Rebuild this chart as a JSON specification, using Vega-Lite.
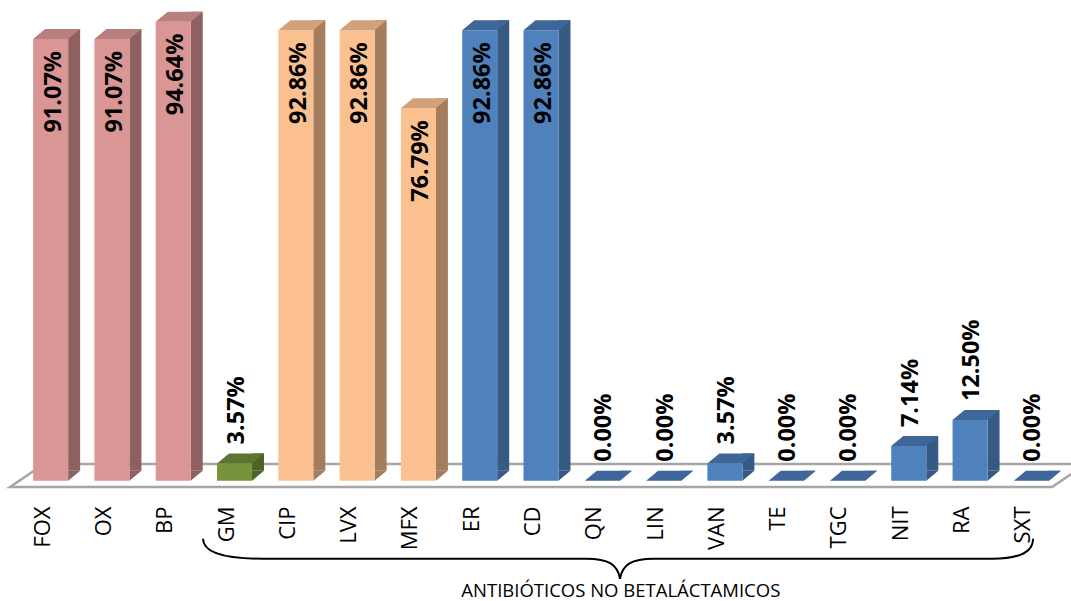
{
  "$schema": "https://vega.github.io/schema/vega-lite/v6.json",
  "autosize": "none",
  "width": 1042,
  "height": 488,
  "padding": {"left": 20, "top": 0, "right": 9, "bottom": 113},
  "background": "white",
  "config": {"view": {"stroke": null}},
  "data": {
    "values": [
      {"ab": "FOX", "pct": 91.07, "grupo": "A"},
      {"ab": "OX", "pct": 91.07, "grupo": "A"},
      {"ab": "BP", "pct": 94.64, "grupo": "A"},
      {"ab": "GM", "pct": 3.57, "grupo": "B"},
      {"ab": "CIP", "pct": 92.86, "grupo": "C"},
      {"ab": "LVX", "pct": 92.86, "grupo": "C"},
      {"ab": "MFX", "pct": 76.79, "grupo": "C"},
      {"ab": "ER", "pct": 92.86, "grupo": "D"},
      {"ab": "CD", "pct": 92.86, "grupo": "D"},
      {"ab": "QN", "pct": 0.0, "grupo": "D"},
      {"ab": "LIN", "pct": 0.0, "grupo": "D"},
      {"ab": "VAN", "pct": 3.57, "grupo": "D"},
      {"ab": "TE", "pct": 0.0, "grupo": "D"},
      {"ab": "TGC", "pct": 0.0, "grupo": "D"},
      {"ab": "NIT", "pct": 7.14, "grupo": "D"},
      {"ab": "RA", "pct": 12.5, "grupo": "D"},
      {"ab": "SXT", "pct": 0.0, "grupo": "D"}
    ]
  },
  "encoding": {
    "x": {
      "field": "ab",
      "type": "nominal",
      "sort": null,
      "scale": {"paddingInner": 0, "paddingOuter": 0},
      "axis": {
        "title": null,
        "domain": false,
        "ticks": false,
        "labelAngle": 270,
        "labelAlign": "right",
        "labelBaseline": "middle",
        "labelPadding": 18,
        "labelOffset": -8,
        "labelFont": "Open Sans",
        "labelFontSize": 22,
        "labelColor": "#000000"
      }
    }
  },
  "layer": [
    {
      "transform": [{"filter": "datum.ab == 'FOX'"}],
      "mark": {
        "type": "point",
        "shape": "M-40.6,6.3 L1001.4,6.3 L1035.4,-16.7 L-6.6,-16.7 Z",
        "size": 4,
        "filled": true,
        "fill": "#FFFFFF",
        "stroke": "#A6A6A6",
        "strokeWidth": 2.5,
        "opacity": 1
      },
      "encoding": {
        "y": {"datum": 0, "type": "quantitative", "scale": {"domain": [-1.5, 99.1]}, "axis": null}
      }
    },
    {
      "mark": {"type": "bar", "width": 12, "xOffset": 23.5, "yOffset": -10, "y2Offset": -10},
      "encoding": {
        "y": {"field": "pct", "type": "quantitative", "scale": {"domain": [-1.5, 99.1]}, "axis": null},
        "y2": {"datum": 0},
        "color": {"field": "grupo", "type": "nominal", "scale": {"domain": ["A", "B", "C", "D"], "range": ["#8E6160", "#4F6228", "#A47D5E", "#375A85"]}, "legend": null}
      }
    },
    {
      "mark": {"type": "point", "shape": "M17.5,-10 L29.5,-10 L17.5,0 Z", "size": 4, "filled": true, "opacity": 1, "strokeWidth": 0},
      "encoding": {
        "y": {"datum": 0, "type": "quantitative", "scale": {"domain": [-1.5, 99.1]}, "axis": null},
        "color": {"field": "grupo", "type": "nominal", "scale": {"domain": ["A", "B", "C", "D"], "range": ["#8E6160", "#4F6228", "#A47D5E", "#375A85"]}, "legend": null}
      }
    },
    {
      "mark": {"type": "bar", "width": 35},
      "encoding": {
        "y": {"field": "pct", "type": "quantitative", "scale": {"domain": [-1.5, 99.1]}, "axis": null},
        "y2": {"datum": 0},
        "color": {"field": "grupo", "type": "nominal", "scale": {"domain": ["A", "B", "C", "D"], "range": ["#D99694", "#77933C", "#FAC090", "#4F81BD"]}, "legend": null}
      }
    },
    {
      "mark": {"type": "point", "shape": "M-17.5,0 L17.5,0 L29.5,-10 L-5.5,-10 Z", "size": 4, "filled": true, "opacity": 1, "strokeWidth": 0},
      "encoding": {
        "y": {"field": "pct", "type": "quantitative", "scale": {"domain": [-1.5, 99.1]}, "axis": null},
        "color": {"field": "grupo", "type": "nominal", "scale": {"domain": ["A", "B", "C", "D"], "range": ["#B87F7E", "#5E7530", "#D2A079", "#3F6698"]}, "legend": null}
      }
    },
    {
      "transform": [{"filter": "datum.pct >= 50"}, {"calculate": "format(datum.pct, '.2f') + '%'", "as": "lbl"}],
      "mark": {"type": "text", "angle": 270, "align": "right", "baseline": "middle", "font": "Open Sans", "fontWeight": "bold", "fontSize": 23.5, "color": "#000000", "xOffset": 3, "yOffset": 12},
      "encoding": {
        "y": {"field": "pct", "type": "quantitative", "scale": {"domain": [-1.5, 99.1]}, "axis": null},
        "text": {"field": "lbl"}
      }
    },
    {
      "transform": [{"filter": "datum.pct < 50"}, {"calculate": "format(datum.pct, '.2f') + '%'", "as": "lbl"}],
      "mark": {"type": "text", "angle": 270, "align": "left", "baseline": "middle", "font": "Open Sans", "fontWeight": "bold", "fontSize": 23.5, "color": "#000000", "xOffset": 2, "yOffset": -19},
      "encoding": {
        "y": {"field": "pct", "type": "quantitative", "scale": {"domain": [-1.5, 99.1]}, "axis": null},
        "text": {"field": "lbl"}
      }
    },
    {
      "transform": [{"filter": "datum.ab == 'GM'"}],
      "mark": {
        "type": "point",
        "shape": "M-31.5,58 C-31.5,71 -12,78 28,78 L352,78 C374,78 383,84 385.5,98 C388,84 397,78 419,78 L758,78 C788,78 798.5,70 798.5,58",
        "size": 4,
        "filled": false,
        "stroke": "#000000",
        "strokeWidth": 2,
        "opacity": 1
      },
      "encoding": {
        "y": {"datum": 0, "type": "quantitative", "scale": {"domain": [-1.5, 99.1]}, "axis": null}
      }
    },
    {
      "transform": [{"filter": "datum.ab == 'QN'"}],
      "mark": {"type": "text", "text": "ANTIBIÓTICOS NO BETALÁCTAMICOS", "align": "center", "baseline": "alphabetic", "font": "Open Sans", "fontSize": 18.5, "color": "#000000", "xOffset": 18.5, "yOffset": 116},
      "encoding": {
        "y": {"datum": 0, "type": "quantitative", "scale": {"domain": [-1.5, 99.1]}, "axis": null}
      }
    }
  ],
  "resolve": {"scale": {"color": "independent"}}
}
